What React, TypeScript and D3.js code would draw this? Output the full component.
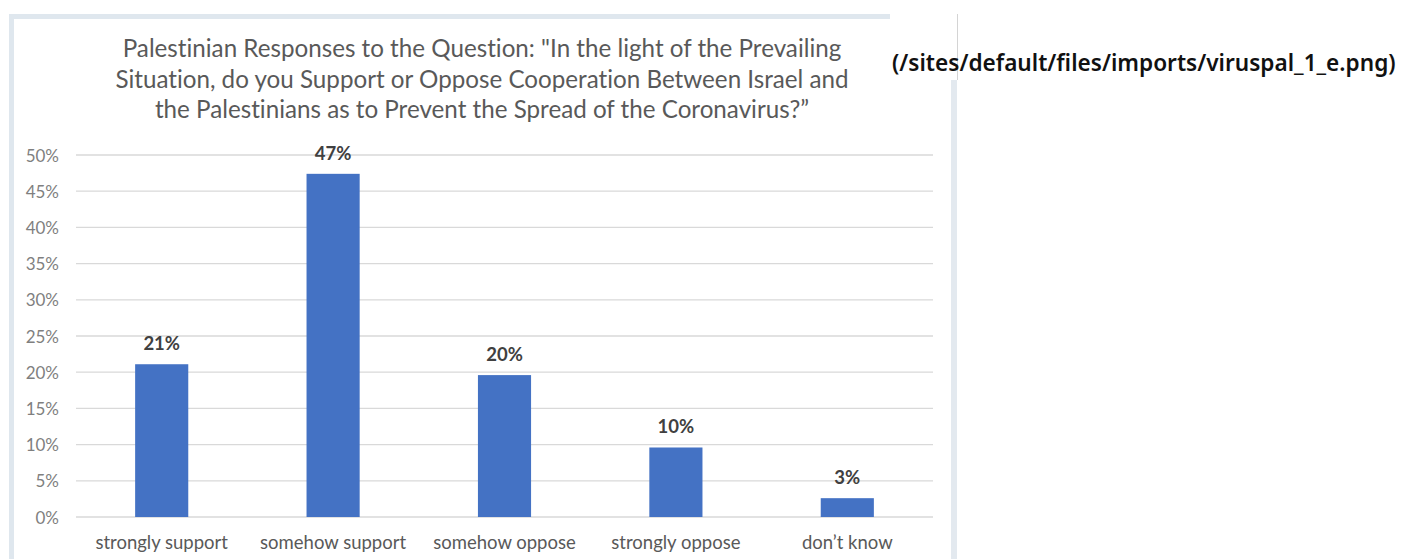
import React from "react";
import * as d3 from "d3";

const categories = ["strongly support", "somehow support", "somehow oppose", "strongly oppose", "don’t know"];
const shares = [0.211, 0.474, 0.196, 0.096, 0.026];
const yTicks = [0, 0.05, 0.1, 0.15, 0.2, 0.25, 0.3, 0.35, 0.4, 0.45, 0.5];
const titleLines = [
  "Palestinian Responses to the Question: \"In the light of the Prevailing",
  "Situation, do you Support or Oppose Cooperation Between Israel and",
  "the Palestinians as to Prevent the Spread of the Coronavirus?”",
];
const sourcePath = "(/sites/default/files/imports/viruspal_1_e.png)";

const W = 1404;
const H = 559;
const plot = { left: 76, right: 933, top: 155, bottom: 517 };
const font = "Lato, 'Noto Sans', sans-serif";
const noLig = { fontVariantLigatures: "none" as const };

export default function App() {
  const x = d3
    .scaleBand<string>()
    .domain(categories)
    .range([plot.left, plot.right])
    .paddingInner(0.69)
    .paddingOuter(0.345);
  const y = d3.scaleLinear().domain([0, 0.5]).range([plot.bottom, plot.top]);
  const pct = d3.format(".0%");

  return (
    <svg
      width={W}
      height={H}
      style={{ position: "absolute", left: 0, top: 0, background: "#fff" }}
    >
      {/* picture frame */}
      <line x1={9} x2={890} y1={16.5} y2={16.5} stroke="#dfe7ee" strokeWidth={5} />
      <line x1={11.5} x2={11.5} y1={14} y2={H} stroke="#dfe7ee" strokeWidth={5} />
      <line x1={957.5} x2={957.5} y1={14} y2={80} stroke="#d4d4d4" strokeWidth={1} />
      <rect x={951} y={80} width={6} height={H - 80} fill="#e3e9ef" />

      {/* title */}
      <g fill="#595959" fontFamily={font} fontSize={24.2} textAnchor="middle" style={noLig}>
        {titleLines.map((t, i) => (
          <text key={i} x={482} y={57 + i * 30.5}>
            {t}
          </text>
        ))}
      </g>

      {/* gridlines and y labels */}
      <g>
        {yTicks.map((t) => (
          <g key={t}>
            <line x1={plot.left} x2={plot.right} y1={y(t)} y2={y(t)} stroke="#d9d9d9" strokeWidth={1.3} />
            <text
              x={59}
              y={y(t) + 6.5}
              textAnchor="end"
              fill="#7f7f7f"
              fontFamily={font}
              fontSize={17}
            >
              {pct(t)}
            </text>
          </g>
        ))}
      </g>

      {/* bars */}
      <g>
        {categories.map((c, i) => (
          <g key={c}>
            <rect
              x={x(c)}
              y={y(shares[i])}
              width={x.bandwidth()}
              height={y(0) - y(shares[i])}
              fill="#4472c4"
            />
            <text
              x={(x(c) as number) + x.bandwidth() / 2}
              y={y(shares[i]) - 14}
              textAnchor="middle"
              fill="#404040"
              fontFamily={font}
              fontWeight={700}
              fontSize={18.5}
            >
              {pct(shares[i])}
            </text>
            <text
              x={(x(c) as number) + x.bandwidth() / 2}
              y={549}
              textAnchor="middle"
              fill="#595959"
              fontFamily={font}
              fontSize={18.5}
              style={noLig}
            >
              {c}
            </text>
          </g>
        ))}
      </g>

      <text x={892} y={71} fill="#111" fontFamily="'Noto Sans', sans-serif" fontWeight={600} fontSize={22.6}>
        {sourcePath}
      </text>
    </svg>
  );
}
